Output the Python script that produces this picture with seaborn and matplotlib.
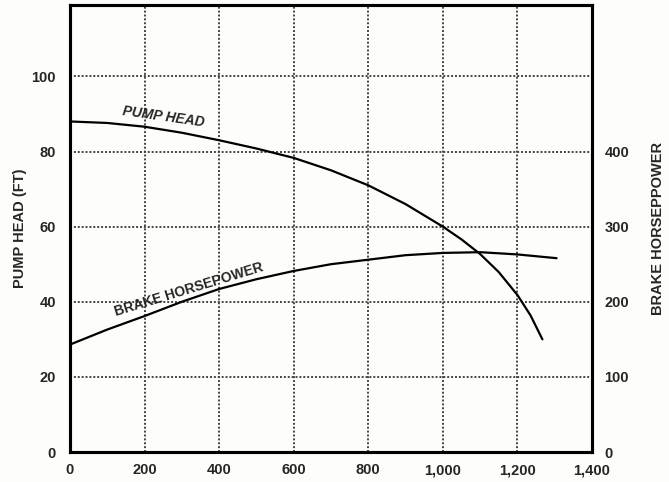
import seaborn as sns
import pandas as pd
import matplotlib.pyplot as plt

# values
flow_head = [0, 100, 200, 300, 400, 500, 600, 700, 800, 900, 1000, 1050, 1100, 1150, 1200, 1235, 1267]
head_ft = [88, 87.6, 86.6, 85.0, 83.0, 80.8, 78.3, 75.0, 71.0, 66.0, 60.0, 56.6, 52.7, 47.9, 41.8, 36.4, 30.0]

flow_bhp = [0, 100, 200, 300, 400, 500, 600, 700, 800, 900, 1000, 1100, 1200, 1305]
bhp = [143, 163, 181, 200, 217, 230, 241, 250, 256, 262, 265, 266, 263, 258]

x_ticks = [0, 200, 400, 600, 800, 1000, 1200, 1400]
x_tick_labels = ["0", "200", "400", "600", "800", "1,000", "1,200", "1,400"]
head_ticks = [0, 20, 40, 60, 80, 100]
bhp_ticks = [0, 100, 200, 300, 400]

head_df = pd.DataFrame({"flow": flow_head, "head": head_ft})
bhp_df = pd.DataFrame({"flow": flow_bhp, "bhp": bhp})

sns.set_style("white")
plt.rcParams['font.family'] = ['Liberation Sans', 'DejaVu Sans']
plt.rcParams['font.weight'] = 'bold'

fig = plt.figure(figsize=(6.69, 4.82), dpi=100)
fig.patch.set_facecolor("#fdfdfb")
ax = fig.add_axes([0.1046, 0.0622, 0.7803, 0.9274])
ax.set_facecolor("#fdfdfb")

sns.lineplot(data=head_df, x="flow", y="head", ax=ax, color="black", linewidth=1.6)
ax.set_xlim(0, 1400)
ax.set_ylim(0, 119)

# dotted grid
for xv in x_ticks[1:-1]:
    ax.axvline(xv, color="#444444", linestyle=(0, (1, 1)), linewidth=1.4, zorder=0)
for yv in head_ticks[1:]:
    ax.axhline(yv, color="#444444", linestyle=(0, (1, 1)), linewidth=1.4, zorder=0)

ax2 = ax.twinx()
sns.lineplot(data=bhp_df, x="flow", y="bhp", ax=ax2, color="black", linewidth=1.6)
ax2.set_ylim(0, 119 * 5)

ax.set_xticks(x_ticks)
ax.set_xticklabels(x_tick_labels, fontsize=10.5, fontweight="bold")
ax.set_yticks(head_ticks)
ax.set_yticklabels([str(t) for t in head_ticks], fontsize=10.5, fontweight="bold")
ax2.set_yticks(bhp_ticks)
ax2.set_yticklabels([str(t) for t in bhp_ticks], fontsize=10.5, fontweight="bold")
ax.tick_params(axis="y", length=0, pad=10)
ax.tick_params(axis="x", length=0, pad=8)
ax2.tick_params(axis="y", length=0, pad=9)

ax.set_xlabel("")
ax.set_ylabel("PUMP HEAD (FT)", fontsize=10.5, fontweight="bold", labelpad=3)
ax2.set_xlabel("")
ax2.set_ylabel("BRAKE HORSEPPOWER", fontsize=10.5, fontweight="bold", labelpad=16)

for a in (ax, ax2):
    for s in a.spines.values():
        s.set_visible(True)
        s.set_linewidth(2.2)
        s.set_color("black")

ax.text(252, 89.3, "PUMP HEAD", fontsize=10, fontweight="bold", style="italic",
        rotation=-8, ha="center", va="center")
ax.text(318, 43.3, "BRAKE HORSEPOWER", fontsize=10, fontweight="bold",
        rotation=17, ha="center", va="center")

fig.savefig("out.png", dpi=100, facecolor=fig.get_facecolor())
